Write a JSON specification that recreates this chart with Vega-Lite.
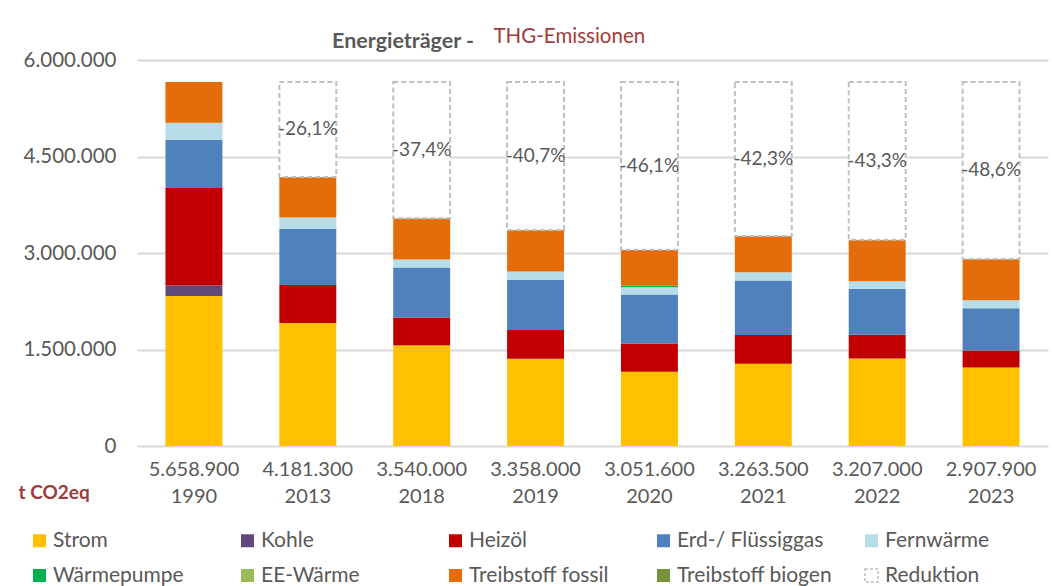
{
  "$schema": "https://vega.github.io/schema/vega-lite/v6.json",
  "width": 911,
  "height": 386,
  "autosize": "none",
  "padding": {"left": 137, "top": 60, "right": 6, "bottom": 140},
  "background": "white",
  "config": {
    "font": "Lato",
    "view": {"stroke": null},
    "locale": {"number": {"decimal": ",", "thousands": ".", "grouping": [3], "currency": ["", " €"]}}
  },
  "title": {
    "text": "Energieträger   -",
    "anchor": "start",
    "frame": "group",
    "dx": 195,
    "offset": -26,
    "fontSize": 21.5,
    "fontWeight": "bold",
    "color": "#595959",
    "font": "Lato"
  },
  "datasets": {
    "segmente": [
      {"Achse": "5.658.900|1990", "Traeger": "Strom", "Wert": 2330000},
      {"Achse": "5.658.900|1990", "Traeger": "Kohle", "Wert": 165000},
      {"Achse": "5.658.900|1990", "Traeger": "Heizöl", "Wert": 1515000},
      {"Achse": "5.658.900|1990", "Traeger": "Erd-/ Flüssiggas", "Wert": 745000},
      {"Achse": "5.658.900|1990", "Traeger": "Fernwärme", "Wert": 263000},
      {"Achse": "5.658.900|1990", "Traeger": "EE-Wärme", "Wert": 8000},
      {"Achse": "5.658.900|1990", "Traeger": "Treibstoff fossil", "Wert": 632900},
      {"Achse": "4.181.300|2013", "Traeger": "Strom", "Wert": 1910000},
      {"Achse": "4.181.300|2013", "Traeger": "Heizöl", "Wert": 594000},
      {"Achse": "4.181.300|2013", "Traeger": "Erd-/ Flüssiggas", "Wert": 870000},
      {"Achse": "4.181.300|2013", "Traeger": "Fernwärme", "Wert": 176000},
      {"Achse": "4.181.300|2013", "Traeger": "Treibstoff fossil", "Wert": 626300},
      {"Achse": "4.181.300|2013", "Traeger": "Treibstoff biogen", "Wert": 5000},
      {"Achse": "3.540.000|2018", "Traeger": "Strom", "Wert": 1562000},
      {"Achse": "3.540.000|2018", "Traeger": "Kohle", "Wert": 5000},
      {"Achse": "3.540.000|2018", "Traeger": "Heizöl", "Wert": 430000},
      {"Achse": "3.540.000|2018", "Traeger": "Erd-/ Flüssiggas", "Wert": 778000},
      {"Achse": "3.540.000|2018", "Traeger": "Fernwärme", "Wert": 125000},
      {"Achse": "3.540.000|2018", "Traeger": "Treibstoff fossil", "Wert": 632000},
      {"Achse": "3.540.000|2018", "Traeger": "Treibstoff biogen", "Wert": 8000},
      {"Achse": "3.358.000|2019", "Traeger": "Strom", "Wert": 1355000},
      {"Achse": "3.358.000|2019", "Traeger": "Kohle", "Wert": 3000},
      {"Achse": "3.358.000|2019", "Traeger": "Heizöl", "Wert": 445000},
      {"Achse": "3.358.000|2019", "Traeger": "Erd-/ Flüssiggas", "Wert": 783000},
      {"Achse": "3.358.000|2019", "Traeger": "Fernwärme", "Wert": 125000},
      {"Achse": "3.358.000|2019", "Traeger": "Treibstoff fossil", "Wert": 642000},
      {"Achse": "3.358.000|2019", "Traeger": "Treibstoff biogen", "Wert": 5000},
      {"Achse": "3.051.600|2020", "Traeger": "Strom", "Wert": 1153000},
      {"Achse": "3.051.600|2020", "Traeger": "Heizöl", "Wert": 440000},
      {"Achse": "3.051.600|2020", "Traeger": "Erd-/ Flüssiggas", "Wert": 762000},
      {"Achse": "3.051.600|2020", "Traeger": "Fernwärme", "Wert": 114000},
      {"Achse": "3.051.600|2020", "Traeger": "Wärmepumpe", "Wert": 22000},
      {"Achse": "3.051.600|2020", "Traeger": "Treibstoff fossil", "Wert": 555600},
      {"Achse": "3.051.600|2020", "Traeger": "Treibstoff biogen", "Wert": 5000},
      {"Achse": "3.263.500|2021", "Traeger": "Strom", "Wert": 1277000},
      {"Achse": "3.263.500|2021", "Traeger": "Heizöl", "Wert": 450000},
      {"Achse": "3.263.500|2021", "Traeger": "Erd-/ Flüssiggas", "Wert": 845000},
      {"Achse": "3.263.500|2021", "Traeger": "Fernwärme", "Wert": 129000},
      {"Achse": "3.263.500|2021", "Traeger": "Treibstoff fossil", "Wert": 554500},
      {"Achse": "3.263.500|2021", "Traeger": "Treibstoff biogen", "Wert": 8000},
      {"Achse": "3.207.000|2022", "Traeger": "Strom", "Wert": 1360000},
      {"Achse": "3.207.000|2022", "Traeger": "Heizöl", "Wert": 368000},
      {"Achse": "3.207.000|2022", "Traeger": "Erd-/ Flüssiggas", "Wert": 715000},
      {"Achse": "3.207.000|2022", "Traeger": "Fernwärme", "Wert": 118000},
      {"Achse": "3.207.000|2022", "Traeger": "Treibstoff fossil", "Wert": 638000},
      {"Achse": "3.207.000|2022", "Traeger": "Treibstoff biogen", "Wert": 8000},
      {"Achse": "2.907.900|2023", "Traeger": "Strom", "Wert": 1220000},
      {"Achse": "2.907.900|2023", "Traeger": "Heizöl", "Wert": 264000},
      {"Achse": "2.907.900|2023", "Traeger": "Erd-/ Flüssiggas", "Wert": 657000},
      {"Achse": "2.907.900|2023", "Traeger": "Fernwärme", "Wert": 124000},
      {"Achse": "2.907.900|2023", "Traeger": "Treibstoff fossil", "Wert": 637900},
      {"Achse": "2.907.900|2023", "Traeger": "Treibstoff biogen", "Wert": 5000}
    ],
    "reduktion": [
      {"Achse": "4.181.300|2013", "Gesamt": 4181300, "Basis": 5658900, "Label": "-26,1%"},
      {"Achse": "3.540.000|2018", "Gesamt": 3540000, "Basis": 5658900, "Label": "-37,4%"},
      {"Achse": "3.358.000|2019", "Gesamt": 3358000, "Basis": 5658900, "Label": "-40,7%"},
      {"Achse": "3.051.600|2020", "Gesamt": 3051600, "Basis": 5658900, "Label": "-46,1%"},
      {"Achse": "3.263.500|2021", "Gesamt": 3263500, "Basis": 5658900, "Label": "-42,3%"},
      {"Achse": "3.207.000|2022", "Gesamt": 3207000, "Basis": 5658900, "Label": "-43,3%"},
      {"Achse": "2.907.900|2023", "Gesamt": 2907900, "Basis": 5658900, "Label": "-48,6%"}
    ]
  },
  "encoding": {
    "x": {
      "field": "Achse",
      "type": "nominal",
      "sort": null,
      "scale": {"paddingInner": 0.5, "paddingOuter": 0.25},
      "axis": {
        "title": "t CO2eq",
        "titleX": -119,
        "titleY": 46,
        "titleAlign": "left",
        "titleBaseline": "middle",
        "titleAngle": 0,
        "titleFontSize": 19,
        "titleFontWeight": "bold",
        "titleColor": "#9e3b3b",
        "titleFont": "Lato",
        "labelExpr": "split(datum.value, '|')",
        "labelFontSize": 20,
        "labelFont": "Lato",
        "labelColor": "#595959",
        "labelLineHeight": 27,
        "labelPadding": 13,
        "labelAngle": 0,
        "ticks": false,
        "domain": false
      }
    }
  },
  "layer": [
    {
      "data": {"name": "segmente"},
      "transform": [
        {"calculate": "indexof(['Strom','Kohle','Heizöl','Erd-/ Flüssiggas','Fernwärme','Wärmepumpe','EE-Wärme','Treibstoff fossil','Treibstoff biogen'], datum.Traeger)", "as": "Reihenfolge"}
      ],
      "mark": {"type": "bar"},
      "encoding": {
        "y": {
          "field": "Wert",
          "type": "quantitative",
          "stack": "zero",
          "scale": {"domain": [0, 6000000], "nice": false},
          "axis": {
            "title": "THG-Emissionen",
            "titleX": 356,
            "titleY": -18,
            "titleAngle": 0,
            "titleAlign": "left",
            "titleBaseline": "alphabetic",
            "titleFontSize": 20.5,
            "titleFontWeight": "normal",
            "titleColor": "#a03c3c",
            "titleFont": "Lato",
            "values": [0, 1500000, 3000000, 4500000, 6000000],
            "format": ",d",
            "labelFontSize": 20.5,
            "labelFont": "Lato",
            "labelColor": "#595959",
            "labelPadding": 21,
            "ticks": false,
            "domain": false,
            "gridColor": "#d9d9d9",
            "gridWidth": 2
          }
        },
        "color": {
          "field": "Traeger",
          "type": "nominal",
          "scale": {
            "domain": ["Strom", "Kohle", "Heizöl", "Erd-/ Flüssiggas", "Fernwärme", "Wärmepumpe", "EE-Wärme", "Treibstoff fossil", "Treibstoff biogen", "Reduktion"],
            "range": ["#FFC000", "#604A7B", "#C00000", "#4F81BD", "#B7DEE8", "#00B050", "#9BBB59", "#E46C0A", "#77933C", "#FFFFFF"]
          },
          "legend": {
            "orient": "none",
            "legendX": -108,
            "legendY": 470,
            "direction": "horizontal",
            "columns": 5,
            "gridAlign": "all",
            "columnPadding": 28,
            "rowPadding": 13,
            "padding": 0,
            "title": null,
            "symbolType": "square",
            "symbolSize": 169,
            "labelFontSize": 21,
            "labelFont": "Lato",
            "labelColor": "#595959",
            "labelOffset": 3,
            "symbolStrokeColor": {"expr": "datum.value === 'Reduktion' ? '#bfbfbf' : null"},
            "symbolStrokeWidth": {"expr": "datum.value === 'Reduktion' ? 1.5 : 0"},
            "symbolDash": {"expr": "datum.value === 'Reduktion' ? [3, 2] : []"}
          }
        },
        "order": {"field": "Reihenfolge", "type": "quantitative", "sort": "ascending"}
      }
    },
    {
      "data": {"name": "reduktion"},
      "mark": {"type": "bar", "fill": "#FFFFFF", "stroke": "#bfbfbf", "strokeWidth": 2, "strokeDash": [5, 3]},
      "encoding": {
        "y": {"field": "Gesamt", "type": "quantitative"},
        "y2": {"field": "Basis"}
      }
    },
    {
      "data": {"name": "reduktion"},
      "transform": [{"calculate": "(datum.Gesamt + datum.Basis) / 2", "as": "Mitte"}],
      "mark": {"type": "text", "fontSize": 19, "font": "Lato", "color": "#595959", "baseline": "middle", "align": "center"},
      "encoding": {
        "y": {"field": "Mitte", "type": "quantitative"},
        "text": {"field": "Label"}
      }
    }
  ]
}
